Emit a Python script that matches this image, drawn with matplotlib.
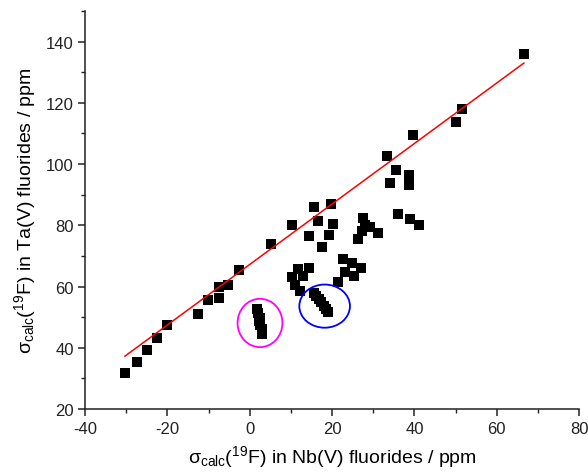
import matplotlib
matplotlib.use("Agg")
import matplotlib.pyplot as plt
from matplotlib.patches import Ellipse
from matplotlib.ticker import MultipleLocator
import numpy as np

plt.rcParams['font.family'] = ['Liberation Sans', 'DejaVu Sans']
plt.rcParams['mathtext.fontset'] = 'custom'
plt.rcParams['mathtext.rm'] = 'Liberation Sans'
plt.rcParams['mathtext.it'] = 'Liberation Sans:italic'
plt.rcParams['axes.unicode_minus'] = False

# sigma_calc(19F) in Nb(V) fluorides (x) vs Ta(V) fluorides (y), ppm
nb_shift = [-30.3, -27.4, -24.9, -22.4, -20.0, -12.6, -10.1, -7.5, -7.4, -5.3,
            -2.7, 5.1, 10.2, 15.5, 19.7, 16.5, 20.3, 14.4, 19.3, 17.5,
            33.4, 35.5, 34.0, 38.7, 38.7, 39.7, 36.1, 38.9, 41.2, 50.0,
            51.6, 66.6,
            27.45, 28.0, 29.2, 27.2, 31.1, 26.2,
            11.8, 14.5, 10.2, 12.9, 11.0, 12.2,
            22.6, 24.8, 23.2, 27.0, 25.4, 21.5,
            1.7, 2.0, 2.6, 2.3, 2.5, 2.9, 3.1,
            15.6, 16.2, 16.8, 17.4, 18.0, 18.5, 19.1]
ta_shift = [31.6, 35.4, 39.2, 43.1, 47.3, 51.1, 55.6, 56.2, 60.0, 60.6,
            65.4, 73.9, 80.0, 86.0, 86.8, 81.4, 80.5, 76.5, 76.7, 72.8,
            102.7, 98.0, 93.9, 96.3, 93.3, 109.5, 83.6, 82.2, 80.2, 113.9,
            118.0, 136.0,
            82.4, 80.2, 79.5, 78.3, 77.6, 75.4,
            65.8, 66.2, 63.1, 63.4, 60.6, 58.7,
            69.1, 67.8, 64.9, 66.0, 63.4, 61.6,
            52.8, 51.2, 49.8, 48.6, 47.4, 46.0, 44.6,
            57.8, 56.8, 55.8, 54.8, 53.6, 52.6, 51.6]

# linear fit line parameters
fit_slope = 0.988
fit_intercept = 67.2

# highlight ellipses: (x centre, y centre, width, height, colour)
ellipses = [(2.5, 48.1, 10.9, 15.8, '#ff00ff'),
            (18.2, 53.6, 12.3, 14.1, '#0000ff')]

xlim = (-40, 80)
ylim = (20, 150)
xticks = [-40, -20, 0, 20, 40, 60, 80]
yticks = [20, 40, 60, 80, 100, 120, 140]

fig = plt.figure(figsize=(5.88, 4.77), dpi=100)
ax = fig.add_axes([0.1446, 0.1405, 0.8402, 0.8343])

ax.scatter(nb_shift, ta_shift, marker='s', s=46, color='black', zorder=3,
           linewidths=0)

xf = np.array([min(nb_shift), max(nb_shift)])
ax.plot(xf, fit_intercept + fit_slope * xf, color='red', lw=1.1, zorder=4)

for cx, cy, w, h, c in ellipses:
    ax.add_patch(Ellipse((cx, cy), w, h, fill=False, edgecolor=c, lw=1.3,
                         zorder=5))

ax.set_xlim(*xlim)
ax.set_ylim(*ylim)
ax.set_xticks(xticks)
ax.set_yticks(yticks)
ax.xaxis.set_minor_locator(MultipleLocator(10))
ax.yaxis.set_minor_locator(MultipleLocator(10))
for s in ['top', 'right']:
    ax.spines[s].set_visible(False)
for s in ['left', 'bottom']:
    ax.spines[s].set_linewidth(1.1)
    ax.spines[s].set_color('#222222')
ax.tick_params(which='major', direction='out', length=5, width=1.1,
               labelsize=12, colors='#222222', pad=3)
ax.tick_params(axis='x', which='major', pad=4)
ax.tick_params(which='minor', direction='out', length=3, width=1.0,
               colors='#222222')

ax.set_xlabel('σ$_{\\mathrm{calc}}$($^{19}$F) in Nb(V) fluorides / ppm',
              fontsize=14, labelpad=5)
ax.set_ylabel('σ$_{\\mathrm{calc}}$($^{19}$F) in Ta(V) fluorides / ppm',
              fontsize=14, labelpad=6)

fig.savefig('out.png', dpi=100)
